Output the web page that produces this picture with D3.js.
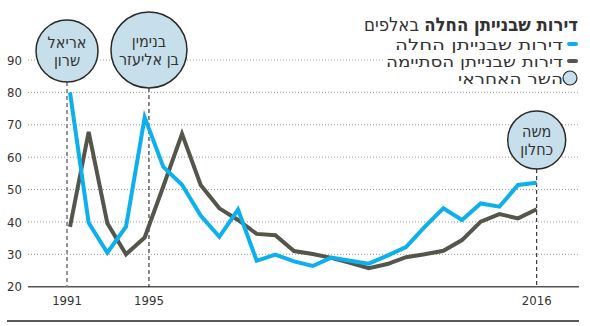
<!DOCTYPE html>
<html><head><meta charset="utf-8">
<script src="https://cdn.jsdelivr.net/npm/d3@7"></script>
<style>
body{margin:0;background:#fff;}
svg{display:block;}
text{font-family:"Liberation Sans Narrow","DejaVu Sans Condensed",sans-serif;fill:#333;}
</style></head>
<body>
<svg id="chart" width="590" height="326"></svg>
<script>
const years = d3.range(1991, 2017);
const started = [80, 39.7, 30.5, 38.5, 72.3, 57, 51.5, 42, 35.4, 43.8, 28, 29.9, 27.8, 26.4, 29, 28, 27.1, 29.6, 32.2, 38.5, 44.2, 40.6, 45.7, 44.7, 51.4, 52.1];
const finished = [38.5, 67.8, 39.6, 30, 35.2, 51, 67.2, 51.4, 44.2, 40.6, 36.3, 35.9, 31, 30.1, 28.9, 27.4, 25.7, 27, 29.1, 30, 31.1, 34.4, 40.1, 42.4, 41.1, 43.9];
const yTicks = [20, 30, 40, 50, 60, 70, 80, 90];
const ministerNames = [["אריאל", "שרון"], ["בנימין", "בן אליעזר"], ["משה", "כחלון"]];
const ministerYears = ["1991", "1995", "2016"];
const titleBold = "דירות שבנייתן החלה";
const titleRegular = "באלפים";
const legendLabels = ["דירות שבנייתן החלה", "דירות שבנייתן הסתיימה", "השר האחראי"];

// layout (positions / sizes only)
const markerAt = [1990.84, 1995.23, 2016];
const circleLayout = [{cy: 51, r: 31}, {cy: 50, r: 38}, {cy: 140, r: 29}];
const legendWidths = [168, 177, 105];
const colors = {started: "#0cb0ec", finished: "#55554c", circle: "#c6dfea"};

const svg = d3.select("#chart");
const x = d3.scaleLinear().domain([1991, 2016]).range([70, 536.7]);
const y = d3.scaleLinear().domain([20, 90]).range([286.7, 60]);
const left = 28, right = 579;

// gridlines
svg.append("g").selectAll("line").data(yTicks.filter(d => d > 20)).join("line")
  .attr("x1", left).attr("x2", right)
  .attr("y1", d => y(d)).attr("y2", d => y(d))
  .attr("stroke", "#9a9a9a").attr("stroke-width", 1).attr("stroke-dasharray", "1,2");

// y tick labels
svg.append("g").selectAll("text").data(yTicks).join("text")
  .attr("x", 22).attr("y", d => y(d)).attr("dy", "0.36em")
  .attr("text-anchor", "end").attr("font-size", 13).text(d => d);

// baseline
svg.append("line").attr("x1", left).attr("x2", right).attr("y1", y(20)).attr("y2", y(20))
  .attr("stroke", "#555").attr("stroke-width", 1.5);
// bottom rule
svg.append("line").attr("x1", 7).attr("x2", right).attr("y1", 321).attr("y2", 321)
  .attr("stroke", "#222").attr("stroke-width", 1.5);

// marker dashed lines
const markerStyles = [{c: "#8a8a8a", w: 1.8, d: "4,3"}, {c: "#111", w: 1, d: "4,3"}, {c: "#111", w: 1, d: "4,3"}];
markerAt.forEach((m, i) => {
  svg.append("line").attr("x1", x(m)).attr("x2", x(m))
    .attr("y1", circleLayout[i].cy + circleLayout[i].r).attr("y2", y(20))
    .attr("stroke", markerStyles[i].c).attr("stroke-width", markerStyles[i].w)
    .attr("stroke-dasharray", markerStyles[i].d);
  svg.append("text").attr("x", x(m)).attr("y", 305).attr("text-anchor", "middle")
    .attr("font-size", 13).text(ministerYears[i]);
});

// lines
const line = d3.line().x((d, i) => x(years[i])).y(d => y(d));
svg.append("path").datum(finished).attr("d", line).attr("fill", "none")
  .attr("stroke", colors.finished).attr("stroke-width", 4).attr("stroke-linejoin", "miter");
svg.append("path").datum(started).attr("d", line).attr("fill", "none")
  .attr("stroke", colors.started).attr("stroke-width", 4).attr("stroke-linejoin", "miter");

// minister circles
markerAt.forEach((m, i) => {
  const g = svg.append("g");
  g.append("circle").attr("cx", x(m)).attr("cy", circleLayout[i].cy).attr("r", circleLayout[i].r)
    .attr("fill", colors.circle).attr("stroke", "#2a2a2a").attr("stroke-width", 1.5);
  ministerNames[i].forEach((t, j) => {
    g.append("text").attr("x", x(m)).attr("y", circleLayout[i].cy + (j === 0 ? -8.5 : 9.5))
      .attr("dy", "0.35em").attr("text-anchor", "middle").attr("font-size", 16)
      .attr("fill", "#333").text(t);
  });
});

// title
const title = svg.append("text").attr("x", 578).attr("y", 31).attr("text-anchor", "start")
  .attr("direction", "rtl").attr("font-size", 19)
  .attr("textLength", 214).attr("lengthAdjust", "spacingAndGlyphs");
title.append("tspan").attr("font-weight", "bold").text(titleBold);
title.append("tspan").text(" " + titleRegular);

// legend
svg.append("rect").attr("x", 383).attr("y", 52).attr("width", 200).attr("height", 16).attr("fill", "#fff");
const legY = [44, 61, 78];
legendLabels.forEach((t, i) => {
  svg.append("text").attr("x", 563).attr("y", legY[i]).attr("dy", "0.36em")
    .attr("text-anchor", "start").attr("direction", "rtl").attr("font-size", 15.5)
    .attr("textLength", legendWidths[i]).attr("lengthAdjust", "spacingAndGlyphs").text(t);
});
[colors.started, colors.finished].forEach((c, i) => {
  svg.append("line").attr("x1", 569).attr("x2", 576).attr("y1", legY[i]).attr("y2", legY[i])
    .attr("stroke", c).attr("stroke-width", 4).attr("stroke-linecap", "round");
});
svg.append("circle").attr("cx", 570).attr("cy", legY[2]).attr("r", 7)
  .attr("fill", colors.circle).attr("stroke", "#2a2a2a").attr("stroke-width", 1.2);
</script>
</body></html>
